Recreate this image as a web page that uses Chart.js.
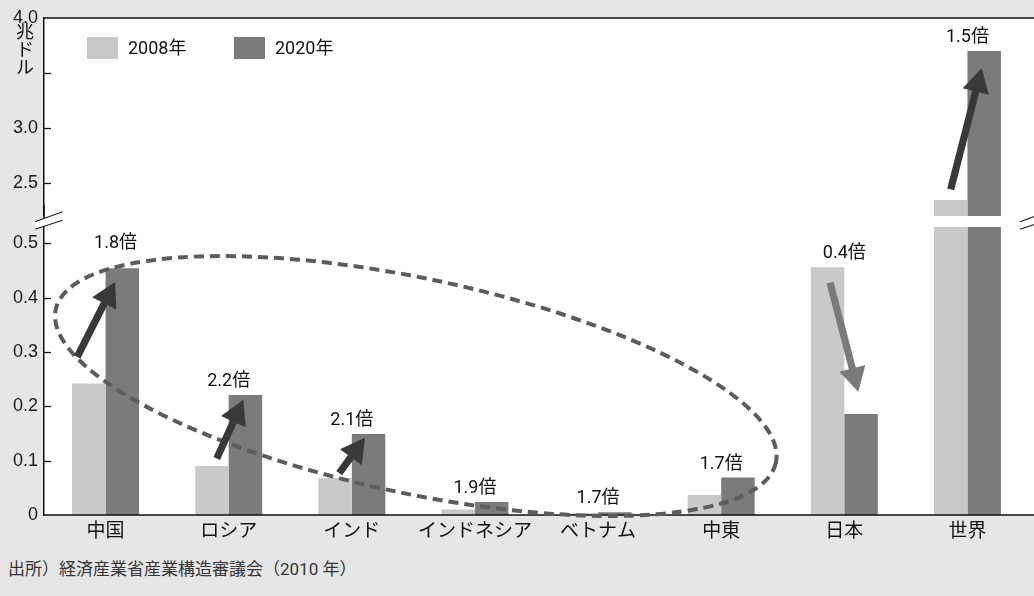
<!DOCTYPE html>
<html lang="ja">
<head>
<meta charset="utf-8">
<title>新興国市場の拡大</title>
<script src="https://cdn.jsdelivr.net/npm/chart.js@4.4.1/dist/chart.umd.min.js"></script>
<style>
  html, body { margin: 0; padding: 0; background: #e6e6e6; }
  #wrap { position: relative; width: 1034px; height: 596px; background: #e6e6e6; overflow: hidden; }
  #upper { position: absolute; left: 0; top: 0; }
  #lower { position: absolute; left: 0; top: 205px; }
  #source {
    position: absolute; left: 8px; top: 557px;
    font-family: Roboto, "Noto Sans CJK JP", sans-serif; font-size: 17px; line-height: 24px; color: #333;
  }
</style>
</head>
<body>
<div id="wrap">
  <canvas id="upper" width="1034" height="216"></canvas>
  <canvas id="lower" width="1034" height="340"></canvas>
  <div id="source">出所）経済産業省産業構造審議会（2010 年）</div>
</div>
<script>
// ---- data (兆ドル) ----
const categories = ['中国', 'ロシア', 'インド', 'インドネシア', 'ベトナム', '中東', '日本', '世界'];
const seriesNames = ['2008年', '2020年'];
const gdp2008 = [0.242, 0.090, 0.068, 0.010, 0.003, 0.037, 0.456, 2.345];
const gdp2020 = [0.454, 0.221, 0.149, 0.024, 0.005, 0.069, 0.186, 3.70];
const ratioLabels = ['1.8倍', '2.2倍', '2.1倍', '1.9倍', '1.7倍', '1.7倍', '0.4倍', '1.5倍'];
const unitLabel = '兆ドル';

// broken value axis: a lower panel and an upper panel
const lowerRange = [0, 0.53];
const upperRange = [2.2, 4.0];
const lowerTicks = [0, 0.1, 0.2, 0.3, 0.4, 0.5];
const lowerTickLabels = ['0', '0.1', '0.2', '0.3', '0.4', '0.5'];
const upperTicks = [2.5, 3.0, 3.5, 4.0];
const upperTickLabels = ['2.5', '3.0', '', '4.0'];

// growth arrows: [category position, value] at tail and head
const growthArrows = [
  { panel: 'lower', from: [-0.23, 0.291], to: [0.077, 0.429], color: '#3b3838' },
  { panel: 'lower', from: [0.903, 0.104], to: [1.119, 0.212], color: '#3b3838' },
  { panel: 'lower', from: [1.898, 0.077], to: [2.107, 0.142], color: '#3b3838' },
  { panel: 'lower', from: [5.884, 0.4275], to: [6.114, 0.227], color: '#7a7a7a' },
  { panel: 'upper', from: [6.864, 2.443], to: [7.116, 3.543], color: '#3b3838' }
];
// dashed ring round the emerging economies (center in category/value units)
const emergingRing = { center: [2.52, 0.2374], rx: 2.99, ry: 0.1976, tiltDeg: 12 };

// ---- styling ----
const COLORS = ['#c8c9cb', '#7b7b7b'];
const FONT_JP = 'Roboto, "Noto Sans CJK JP", sans-serif';
const FONT_NUM = '"Liberation Sans", Arial, sans-serif';
const AXIS_W = 44;          // width reserved for the value axis
const GAP_TOP = 11;         // lower canvas y where the white gap begins
const ratioNudge = [[10, -11.5], [0, 0], [0, 0], [0, 0], [0, 0], [0, 0], [0, 0], [0, 0]];

Chart.defaults.font.family = FONT_JP;
Chart.defaults.color = '#111';

function datasets() {
  return [gdp2008, gdp2020].map((vals, k) => ({
    label: seriesNames[k],
    data: vals,
    backgroundColor: COLORS[k],
    borderWidth: 0,
    categoryPercentage: 0.544,
    barPercentage: 1.0,
    clip: 0
  }));
}

function drawArrow(ctx, x1, y1, x2, y2, color) {
  const ang = Math.atan2(y2 - y1, x2 - x1);
  const len = Math.hypot(x2 - x1, y2 - y1);
  const hl = 24, hw = 13.5, sw = 3.6;
  ctx.save();
  ctx.translate(x1, y1);
  ctx.rotate(ang);
  ctx.fillStyle = color;
  ctx.beginPath();
  ctx.moveTo(0, -sw);
  ctx.lineTo(len - hl, -sw);
  ctx.lineTo(len - hl, -hw);
  ctx.lineTo(len, 0);
  ctx.lineTo(len - hl, hw);
  ctx.lineTo(len - hl, sw);
  ctx.lineTo(0, sw);
  ctx.closePath();
  ctx.fill();
  ctx.restore();
}

function innerTicks(chart, skip) {
  const ctx = chart.ctx, y = chart.scales.y, left = chart.chartArea.left;
  ctx.save();
  ctx.strokeStyle = '#111';
  ctx.lineWidth = 1.3;
  y.ticks.forEach(t => {
    if (t.value === skip) return;
    const py = Math.round(y.getPixelForValue(t.value)) + 0.5;
    ctx.beginPath();
    ctx.moveTo(left, py);
    ctx.lineTo(left + 7, py);
    ctx.stroke();
  });
  ctx.restore();
}

function panelAnnotations(chart, panel, range) {
  const ctx = chart.ctx, xs = chart.scales.x, ys = chart.scales.y;
  growthArrows.filter(a => a.panel === panel).forEach(a => {
    drawArrow(ctx,
      xs.getPixelForValue(a.from[0]), ys.getPixelForValue(a.from[1]),
      xs.getPixelForValue(a.to[0]), ys.getPixelForValue(a.to[1]), a.color);
  });
  ctx.save();
  ctx.font = '18px ' + FONT_JP;
  ctx.fillStyle = '#111';
  ctx.textAlign = 'center';
  ctx.textBaseline = 'middle';
  categories.forEach((c, i) => {
    const top = Math.max(gdp2008[i], gdp2020[i]);
    if (top < range[0] || top > range[1]) return;
    const x = xs.getPixelForValue(i) + ratioNudge[i][0];
    const y = ys.getPixelForValue(top) - 13.5 + ratioNudge[i][1];
    ctx.fillText(ratioLabels[i], x, y);
  });
  ctx.restore();
}

function breakMark(ctx, x, y) {
  // two slanted parallel strokes with the axis blanked between them
  ctx.save();
  ctx.fillStyle = '#ffffff';
  ctx.beginPath();
  ctx.moveTo(x - 8.5, y + 1);
  ctx.lineTo(x + 19, y - 9);
  ctx.lineTo(x + 19, y - 0.5);
  ctx.lineTo(x - 8.5, y + 8.5);
  ctx.closePath();
  ctx.fill();
  ctx.strokeStyle = '#222';
  ctx.lineWidth = 1.2;
  ctx.beginPath();
  ctx.moveTo(x - 8.5, y + 1); ctx.lineTo(x + 19, y - 9);
  ctx.moveTo(x - 8.5, y + 8.5); ctx.lineTo(x + 19, y - 0.5);
  ctx.stroke();
  ctx.restore();
}

function valueAxis(range, ticks, labels) {
  return {
    position: 'left',
    min: range[0],
    max: range[1],
    afterFit: s => { s.width = AXIS_W; s.paddingTop = 0; s.paddingBottom = 0; },
    afterBuildTicks: s => { s.ticks = ticks.map(v => ({ value: v })); },
    grid: { display: false, drawTicks: false },
    border: { display: true, color: '#111', width: 1.5 },
    ticks: {
      padding: 6,
      font: { family: FONT_NUM, size: 18 },
      color: '#1a1a1a',
      callback: v => { const k = ticks.indexOf(v); return k >= 0 ? labels[k] : ''; }
    }
  };
}

const upperPlugin = {
  id: 'upperPanel',
  beforeDraw(chart) {
    const { ctx, chartArea: ca, width } = chart;
    ctx.save();
    ctx.fillStyle = '#ffffff';
    ctx.fillRect(ca.left, ca.top, width - ca.left, chart.height - ca.top);
    ctx.restore();
  },
  afterDraw(chart) {
    const { ctx, chartArea: ca, width } = chart;
    // frame line along the top
    ctx.save();
    ctx.strokeStyle = '#111';
    ctx.lineWidth = 1.5;
    ctx.beginPath();
    ctx.moveTo(ca.left, ca.top);
    ctx.lineTo(width, ca.top);
    ctx.stroke();
    ctx.restore();
    innerTicks(chart, upperRange[1]);
    // unit label written vertically
    ctx.save();
    ctx.font = '18px ' + FONT_JP;
    ctx.fillStyle = '#111';
    ctx.textAlign = 'center';
    ctx.textBaseline = 'middle';
    Array.from(unitLabel).forEach((ch, k) => ctx.fillText(ch, 25, 33 + k * 18));
    // legend
    ctx.font = '18px ' + FONT_JP;
    ctx.textAlign = 'left';
    let lx = ca.left + 43;
    chart.data.datasets.forEach(ds => {
      ctx.fillStyle = ds.backgroundColor;
      ctx.fillRect(lx, ca.top + 19, 31, 22);
      ctx.fillStyle = '#111';
      ctx.fillText(ds.label, lx + 41, ca.top + 31);
      lx += 147;
    });
    ctx.restore();
    panelAnnotations(chart, 'upper', upperRange);
  }
};

const lowerPlugin = {
  id: 'lowerPanel',
  beforeDraw(chart) {
    const { ctx, chartArea: ca, width } = chart;
    ctx.save();
    ctx.fillStyle = '#ffffff';
    ctx.fillRect(ca.left, GAP_TOP, width - ca.left, ca.bottom - GAP_TOP);
    ctx.restore();
  },
  afterDraw(chart) {
    const { ctx, chartArea: ca, width } = chart;
    ctx.save();
    ctx.strokeStyle = '#111';
    ctx.lineWidth = 1.5;
    ctx.beginPath();
    ctx.moveTo(ca.left, ca.bottom);
    ctx.lineTo(width, ca.bottom);
    ctx.moveTo(ca.left, 0);
    ctx.lineTo(ca.left, ca.top);
    ctx.stroke();
    ctx.restore();
    breakMark(ctx, ca.left - 0.5, 15.7);
    breakMark(ctx, ca.right - 0.5, 15.7);
    innerTicks(chart, lowerRange[0]);

    // dashed ring
    const xs = chart.scales.x, ys = chart.scales.y;
    const cx = xs.getPixelForValue(emergingRing.center[0]);
    const cy = ys.getPixelForValue(emergingRing.center[1]);
    const catW = xs.getPixelForValue(1) - xs.getPixelForValue(0);
    const unitH = ys.getPixelForValue(0) - ys.getPixelForValue(1);
    ctx.save();
    ctx.strokeStyle = '#5c5c5c';
    ctx.lineWidth = 4;
    ctx.setLineDash([10, 6]);
    ctx.beginPath();
    ctx.ellipse(cx, cy, emergingRing.rx * catW, emergingRing.ry * unitH,
      emergingRing.tiltDeg * Math.PI / 180, 0, Math.PI * 2);
    ctx.stroke();
    ctx.restore();

    panelAnnotations(chart, 'lower', lowerRange);
  }
};

const common = {
  responsive: false,
  animation: false,
  events: [],
  plugins: { legend: { display: false }, tooltip: { enabled: false } }
};

new Chart(document.getElementById('upper'), {
  type: 'bar',
  data: { labels: categories, datasets: datasets() },
  options: Object.assign({}, common, {
    layout: { padding: { top: 18, right: 5, bottom: 0, left: 0 } },
    scales: {
      x: { display: false },
      y: valueAxis(upperRange, upperTicks, upperTickLabels)
    }
  }),
  plugins: [upperPlugin]
});

new Chart(document.getElementById('lower'), {
  type: 'bar',
  data: { labels: categories, datasets: datasets() },
  options: Object.assign({}, common, {
    layout: { padding: { top: 22, right: 5, bottom: 0, left: 0 } },
    scales: {
      x: {
        afterFit: s => { s.height = 30; },
        grid: { display: false, drawTicks: false },
        border: { display: false },
        ticks: { padding: 6, font: { size: 19 }, color: '#111', maxRotation: 0, autoSkip: false }
      },
      y: valueAxis(lowerRange, lowerTicks, lowerTickLabels)
    }
  }),
  plugins: [lowerPlugin]
});
</script>
</body>
</html>
